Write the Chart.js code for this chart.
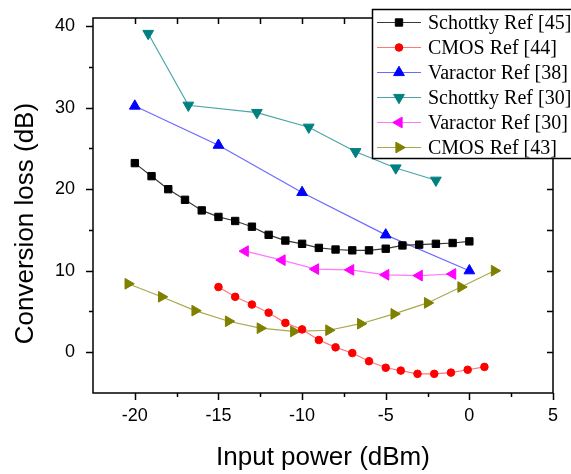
<!DOCTYPE html>
<html lang="en">
<head>
    <meta charset="UTF-8">
    <title>Conversion loss</title>
    <style>
        html, body { margin: 0; padding: 0; background: #fff; }
        #wrap { width: 571px; height: 474px; }
    </style>
</head>
<body>
<div id="wrap">
    <canvas id="Chart1" width="571" height="474"></canvas>
</div>

<script src="https://cdn.jsdelivr.net/npm/chart.js"></script>
<script>

    // series (x = input power dBm, y = conversion loss dB)
    const schottky45X = [-20, -19, -18, -17, -16, -15, -14, -13, -12, -11, -10, -9, -8, -7, -6, -5, -4, -3, -2, -1, 0];
    const schottky45Y = [23.2, 21.6, 20.0, 18.7, 17.4, 16.6, 16.1, 15.4, 14.4, 13.7, 13.3, 12.8, 12.6, 12.5, 12.5, 12.7, 13.1, 13.2, 13.3, 13.4, 13.6];

    const cmos44X = [-15, -14, -13, -12, -11, -10, -9, -8, -7, -6, -5, -4.1, -3.1, -2.1, -1.1, -0.1, 0.9];
    const cmos44Y = [8.0, 6.8, 5.85, 4.85, 3.6, 2.8, 1.5, 0.6, -0.1, -1.1, -1.9, -2.25, -2.65, -2.65, -2.5, -2.15, -1.8];

    const varactor38X = [-20, -15, -10, -5, 0];
    const varactor38Y = [30.2, 25.4, 19.6, 14.4, 10.0];

    const schottky30X = [-19.2, -16.8, -12.7, -9.6, -6.8, -4.4, -2.0];
    const schottky30Y = [39.1, 30.3, 29.4, 27.6, 24.6, 22.6, 21.1];

    const varactor30X = [-13.4, -11.2, -9.2, -7.1, -5.0, -3.0, -1.0];
    const varactor30Y = [12.4, 11.3, 10.2, 10.1, 9.5, 9.4, 9.6];

    const cmos43X = [-20.4, -18.4, -16.4, -14.4, -12.5, -10.5, -8.4, -6.5, -4.5, -2.5, -0.5, 1.5];
    const cmos43Y = [8.4, 6.8, 5.1, 3.8, 2.95, 2.55, 2.7, 3.5, 4.7, 6.05, 8.0, 10.0];

    const seriesNames = ['Schottky Ref [45]', 'CMOS Ref [44]', 'Varactor Ref [38]',
        'Schottky Ref [30]', 'Varactor Ref [30]', 'CMOS Ref [43]'];

    // tick positions (labels only on the major ones)
    const xTicks = [-20, -17.5, -15, -12.5, -10, -7.5, -5, -2.5, 0, 2.5, 5];
    const xTickLabels = ['-20', '', '-15', '', '-10', '', '-5', '', '0', '', '5'];
    const yTicks = [0, 5, 10, 15, 20, 25, 30, 35, 40];
    const yTickLabels = ['0', '', '10', '', '20', '', '30', '', '40'];

    const xMin = -22.5, xMax = 5;
    const yMin = -5, yMax = 41;

    function pts(xs, ys) {
        return xs.map((x, i) => ({x: x, y: ys[i]}));
    }

    function series(label, xs, ys, marker, line, style, rotation, radius) {
        return {
            label: label,
            data: pts(xs, ys),
            borderColor: line,
            borderWidth: 1.2,
            backgroundColor: marker,
            pointBackgroundColor: marker,
            pointBorderColor: marker,
            pointBorderWidth: 1,
            pointStyle: style,
            rotation: rotation,
            pointRadius: radius,
            pointHoverRadius: radius,
            tension: 0,
            showLine: true,
            fill: false
        };
    }

    const datasets = [
        series(seriesNames[0], schottky45X, schottky45Y, '#000000', '#3a3a3a', 'rect', 0, 5.2),
        series(seriesNames[1], cmos44X, cmos44Y, '#ff0000', '#ff7777', 'circle', 0, 3.8),
        series(seriesNames[2], varactor38X, varactor38Y, '#0000ff', '#6a6aff', 'triangle', 0, 6.2),
        series(seriesNames[3], schottky30X, schottky30Y, '#008080', '#4aa6a6', 'triangle', 180, 6.2),
        series(seriesNames[4], varactor30X, varactor30Y, '#ff00ff', '#ff77ff', 'triangle', -90, 6.2),
        series(seriesNames[5], cmos43X, cmos43Y, '#808000', '#a8a84e', 'triangle', 90, 6.2)
    ];

    // frame with ticks: outward on left/bottom, inward on top/right
    const frameTicks = {
        id: 'frameTicks',
        afterDraw(chart) {
            const ctx = chart.ctx;
            const a = chart.chartArea;
            const xs = chart.scales.x, ys = chart.scales.y;
            ctx.save();
            ctx.strokeStyle = '#000';
            ctx.lineWidth = 1.5;
            ctx.strokeRect(a.left, a.top, a.right - a.left, a.bottom - a.top);
            ctx.beginPath();
            xs.ticks.forEach((t, i) => {
                const px = Math.round(xs.getPixelForValue(t.value)) + 0.5;
                const major = xTickLabels[i] !== '';
                ctx.moveTo(px, a.bottom);
                ctx.lineTo(px, a.bottom + (major ? 7 : 4));
                if (t.value < xMax) {
                    ctx.moveTo(px, a.top);
                    ctx.lineTo(px, a.top + 6);
                }
            });
            ys.ticks.forEach((t, i) => {
                const py = Math.round(ys.getPixelForValue(t.value)) + 0.5;
                const major = yTickLabels[i] !== '';
                ctx.moveTo(a.left, py);
                ctx.lineTo(a.left - (major ? 7 : 4), py);
                ctx.moveTo(a.right, py);
                ctx.lineTo(a.right - 6, py);
            });
            ctx.stroke();
            ctx.restore();
        }
    };

    // boxed legend sitting over the top right corner
    const boxLegend = {
        id: 'boxLegend',
        afterDraw(chart) {
            const ctx = chart.ctx;
            const left = 372, top = 9, bottom = 158;
            ctx.save();
            ctx.fillStyle = '#fff';
            ctx.fillRect(left, top, 220, bottom - top);
            ctx.strokeStyle = '#000';
            ctx.lineWidth = 1.5;
            ctx.strokeRect(left + 0.5, top + 0.5, 220, bottom - top);
            chart.data.datasets.forEach((ds, i) => {
                const cy = 22.5 + i * 25;
                ctx.strokeStyle = ds.borderColor;
                ctx.lineWidth = 1.2;
                ctx.beginPath();
                ctx.moveTo(377, cy);
                ctx.lineTo(421, cy);
                ctx.stroke();
                ctx.fillStyle = ds.pointBackgroundColor;
                ctx.strokeStyle = ds.pointBorderColor;
                ctx.lineWidth = 1;
                Chart.helpers.drawPoint(ctx, {
                    pointStyle: ds.pointStyle,
                    rotation: ds.rotation,
                    radius: ds.pointRadius,
                    borderWidth: 1
                }, 399, cy);
                ctx.fillStyle = '#000';
                ctx.font = '20px "Liberation Serif", "Times New Roman", serif';
                ctx.textBaseline = 'middle';
                ctx.textAlign = 'left';
                ctx.fillText(ds.label, 428, cy + 1);
            });
            ctx.restore();
        }
    };

    const ctx1 = document.getElementById('Chart1').getContext('2d');

    const config = {
        type: 'scatter',
        data: {datasets: datasets},
        options: {
            responsive: false,
            animation: false,
            events: [],
            layout: {padding: {top: 18, right: 18, left: 0, bottom: 0}},
            plugins: {
                legend: {display: false},
                tooltip: {enabled: false}
            },
            scales: {
                x: {
                    type: 'linear',
                    min: xMin,
                    max: xMax,
                    afterFit: s => { s.height = 81; s.paddingLeft = 0; s.paddingRight = 0; },
                    afterBuildTicks: s => { s.ticks = xTicks.map(v => ({value: v})); },
                    grid: {display: false, drawTicks: false},
                    border: {display: false},
                    ticks: {
                        autoSkip: false,
                        maxRotation: 0,
                        padding: 12,
                        color: '#000',
                        font: {family: '"Liberation Sans", Arial, sans-serif', size: 18},
                        callback: (v, i) => xTickLabels[i]
                    },
                    title: {
                        display: true,
                        text: 'Input power (dBm)',
                        color: '#000',
                        padding: {top: 0, bottom: 1},
                        font: {family: '"Liberation Sans", Arial, sans-serif', size: 26, weight: 'normal'}
                    }
                },
                y: {
                    type: 'linear',
                    min: yMin,
                    max: yMax,
                    afterFit: s => { s.width = 93; s.paddingTop = 0; s.paddingBottom = 0; },
                    afterBuildTicks: s => { s.ticks = yTicks.map(v => ({value: v})); },
                    grid: {display: false, drawTicks: false},
                    border: {display: false},
                    ticks: {
                        autoSkip: false,
                        padding: 18,
                        color: '#000',
                        font: {family: '"Liberation Sans", Arial, sans-serif', size: 18},
                        callback: (v, i) => yTickLabels[i]
                    },
                    title: {
                        display: true,
                        text: 'Conversion loss (dB)     ',
                        color: '#000',
                        padding: {top: 10, bottom: 0},
                        font: {family: '"Liberation Sans", Arial, sans-serif', size: 26, weight: 'normal'}
                    }
                }
            }
        },
        plugins: [frameTicks, boxLegend]
    };

    const chart = new Chart(ctx1, config);

</script>
</body>
</html>
